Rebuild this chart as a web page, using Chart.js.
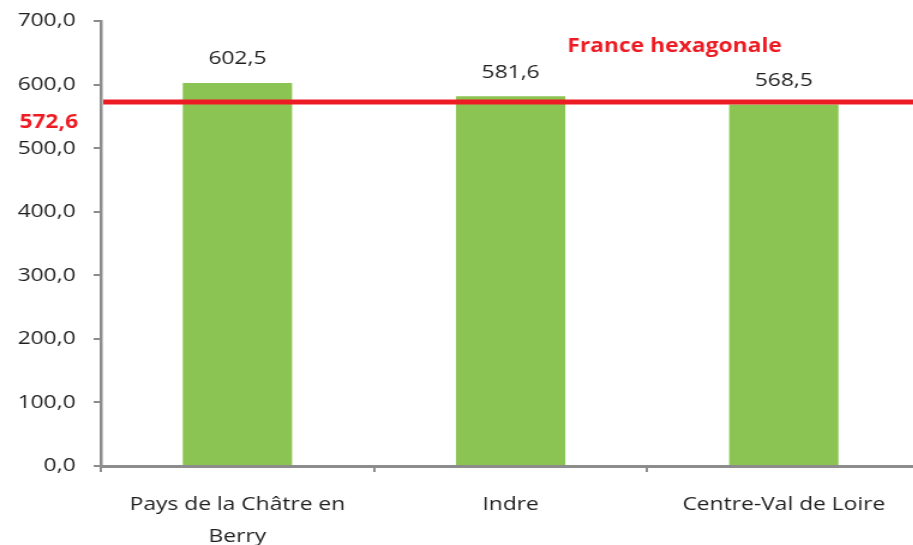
<!DOCTYPE html>
<html>
<head>
<meta charset="utf-8">
<script src="https://cdn.jsdelivr.net/npm/chart.js@4.4.1/dist/chart.umd.min.js"></script>
<style>
  html, body { margin: 0; padding: 0; background: #fff; overflow: hidden; }
  /* the chart is drawn narrow, then widened horizontally */
  #wrap { width: 768px; height: 545px; transform: scaleX(1.2); transform-origin: 0 0; }
</style>
</head>
<body>
<div id="wrap"><canvas id="myChart"></canvas></div>
<script>
const categories = [['Pays de la Châtre en', 'Berry'], 'Indre', 'Centre-Val de Loire'];
const values = [602.5, 581.6, 568.5];
const refValue = 572.6;
const refLabel = 'France hexagonale';
const yTicks = [0, 100, 200, 300, 400, 500, 600, 700];

const green = '#8bc453';
const red = '#ed1c24';
const textColor = '#1f1f1f';
const axisColor = '#8c8c8c';

function frNum(v) {
  return v.toFixed(1).replace('.', ',');
}

// horizontal reference line + value labels over the bars
const overlay = {
  id: 'overlay',
  afterDatasetsDraw(chart) {
    const ctx = chart.ctx;
    const x = chart.scales.x, y = chart.scales.y;
    const area = chart.chartArea;
    const yRef = y.getPixelForValue(refValue);

    ctx.save();
    ctx.strokeStyle = red;
    ctx.lineWidth = 5;
    ctx.beginPath();
    ctx.moveTo(area.left + 2, yRef);
    ctx.lineTo(area.right + 10, yRef);
    ctx.stroke();

    ctx.font = 'bold 19px "Open Sans"';
    ctx.fillStyle = red;
    ctx.textBaseline = 'middle';
    ctx.textAlign = 'center';
    ctx.fillText(refLabel, x.getPixelForValue(1.6), yRef - 55);
    ctx.textAlign = 'right';
    ctx.fillText(frNum(refValue), area.left - 19, yRef + 21);

    ctx.font = '19px "Open Sans"';
    ctx.fillStyle = textColor;
    ctx.textAlign = 'center';
    chart.getDatasetMeta(0).data.forEach(function(bar, i) {
      ctx.fillText(frNum(values[i]), bar.x, bar.y - 24);
    });
    ctx.restore();
  }
};

let chart = new Chart(document.getElementById('myChart').getContext('2d'), {
  type: 'bar',
  data: {
    labels: categories,
    datasets: [{
      data: values,
      backgroundColor: green,
      barPercentage: 0.4,
      categoryPercentage: 1.0
    }]
  },
  options: {
    responsive: true,
    maintainAspectRatio: false,
    animation: false,
    layout: { padding: { top: 21, right: 1, left: 0, bottom: 0 } },
    plugins: {
      legend: { display: false },
      tooltip: { enabled: false }
    },
    scales: {
      y: {
        min: 0,
        max: 700,
        afterBuildTicks(scale) {
          scale.ticks = yTicks.map(v => ({ value: v }));
        },
        afterFit(scale) { scale.width = 84; },
        border: { display: true, color: axisColor, width: 2.5 },
        grid: { drawOnChartArea: false, drawTicks: true, tickLength: 6, color: axisColor, lineWidth: 2 },
        ticks: {
          padding: 15,
          color: textColor,
          // small lineHeight keeps the top label from pushing the plot down
          font: { family: 'Open Sans', size: 19, lineHeight: 0.6 },
          callback: v => frNum(v)
        }
      },
      x: {
        afterFit(scale) { scale.height = 79; },
        border: { display: true, color: axisColor, width: 3 },
        grid: { offset: true, drawOnChartArea: false, drawTicks: true, tickLength: 6, color: axisColor, lineWidth: 2 },
        ticks: {
          padding: 16,
          maxRotation: 0,
          autoSkip: false,
          color: textColor,
          font: { family: 'Open Sans', size: 19, lineHeight: 1.7 }
        }
      }
    }
  },
  plugins: [overlay]
});
</script>
</body>
</html>
